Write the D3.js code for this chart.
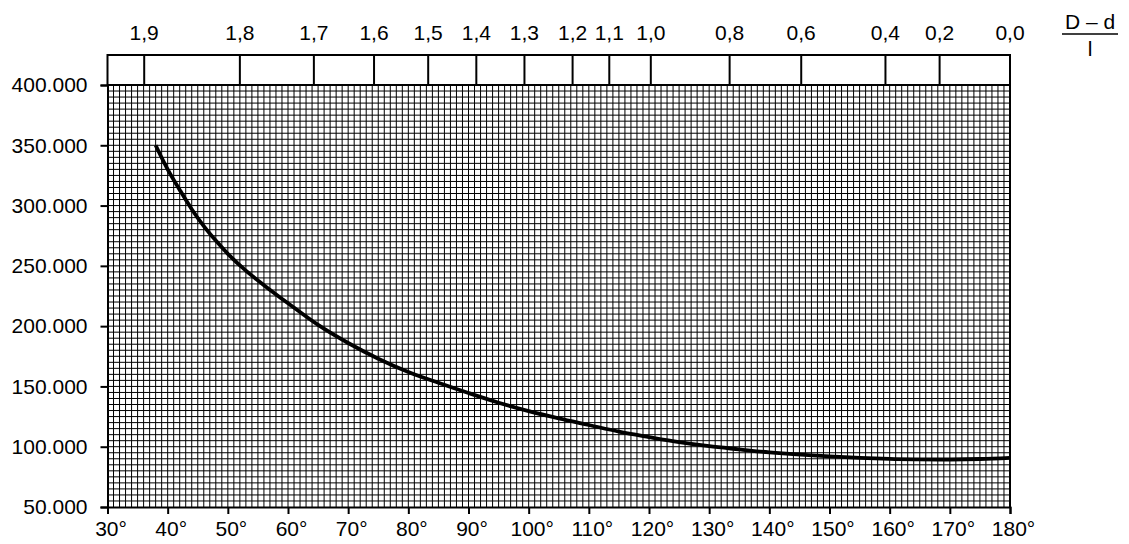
<!DOCTYPE html>
<html>
<head>
<meta charset="utf-8">
<script src="https://d3js.org/d3.v7.min.js"></script>
<style>
  body { margin: 0; background: #fff; }
  text { font-family: "Liberation Sans", Arial, sans-serif; fill: #000; }
</style>
</head>
<body>
<div id="chart"></div>
<script>
// curve: angle (deg) -> value (thousands)
const angles = [38, 40, 42, 44, 46, 48, 50, 53, 56, 60, 65, 70, 75, 80, 85, 90, 95, 100, 105, 110, 115, 120, 125, 130, 135, 140, 150, 160, 165, 170, 175, 180];
const values = [350, 330, 313, 297, 283, 271, 260, 246, 234, 219, 201, 186, 173, 162, 153, 144.5, 136.5, 129.5, 123.5, 118, 112.5, 108, 103.8, 100.4, 97.8, 95.3, 92, 89.9, 89.5, 89.4, 89.8, 90.8];

// top scale (D - d) / l, with positions read as angles
const topLabels = ["1,9", "1,8", "1,7", "1,6", "1,5", "1,4", "1,3", "1,2", "1,1", "1,0", "0,8", "0,6", "0,4", "0,2", "0,0"];
const topAngles = [36.1, 52.0, 64.3, 74.3, 83.3, 91.3, 99.3, 107.3, 113.4, 120.3, 133.4, 145.3, 159.3, 168.3, 180];

const xTicks = [30, 40, 50, 60, 70, 80, 90, 100, 110, 120, 130, 140, 150, 160, 170, 180];
const yTicks = [50, 100, 150, 200, 250, 300, 350, 400];

const W = 1129, H = 544;
const margin = {top: 85, right: 119, bottom: 37, left: 107.5};
const fs = "21px";

const svg = d3.select("#chart").append("svg")
    .attr("width", W)
    .attr("height", H);

const x = d3.scaleLinear().domain([30, 180]).range([margin.left, W - margin.right]);
const y = d3.scaleLinear().domain([50, 400]).range([H - margin.bottom, margin.top]);

// fine grid: 1 degree x 5.000
const grid = svg.append("g").attr("stroke", "#000").attr("stroke-width", 1);
grid.selectAll("line.v")
  .data(d3.range(31, 180, 1))
  .join("line")
    .attr("x1", d => x(d)).attr("x2", d => x(d))
    .attr("y1", y(50)).attr("y2", y(400));
grid.selectAll("line.h")
  .data(d3.range(55, 401, 5))
  .join("line")
    .attr("x1", x(30)).attr("x2", x(180))
    .attr("y1", d => y(d)).attr("y2", d => y(d));

// right border
svg.append("line")
    .attr("x1", x(180)).attr("x2", x(180))
    .attr("y1", y(50)).attr("y2", y(400))
    .attr("stroke", "#000").attr("stroke-width", 2);

// axes
const fmt = d => d3.format(",")(d * 1000).replace(/,/g, ".");
const yAxis = svg.append("g")
    .attr("transform", `translate(${margin.left},0)`)
    .call(d3.axisLeft(y).tickValues(yTicks).tickFormat(fmt).tickSize(7).tickPadding(13));
const xAxis = svg.append("g")
    .attr("transform", `translate(0,${y(50)})`)
    .call(d3.axisBottom(x).tickValues(xTicks).tickFormat(d => d + "°").tickSize(7).tickPadding(7));

[yAxis, xAxis].forEach(a => {
  a.select(".domain").attr("stroke", "#000").attr("stroke-width", 2);
  a.selectAll(".tick line").attr("stroke", "#000").attr("stroke-width", 2);
  a.selectAll("text").style("font-size", fs).attr("font-family", null);
});
xAxis.selectAll("text").attr("dx", "3");

// top band
const bandTop = 55;
svg.append("rect")
    .attr("x", x(30)).attr("y", bandTop)
    .attr("width", x(180) - x(30)).attr("height", y(400) - bandTop)
    .attr("fill", "none").attr("stroke", "#000").attr("stroke-width", 2);
svg.append("g").selectAll("line")
  .data(topAngles)
  .join("line")
    .attr("x1", d => x(d)).attr("x2", d => x(d))
    .attr("y1", bandTop).attr("y2", y(400))
    .attr("stroke", "#000").attr("stroke-width", 2);
svg.append("g").selectAll("text")
  .data(topAngles)
  .join("text")
    .attr("x", d => x(d)).attr("y", 40)
    .attr("text-anchor", "middle")
    .style("font-size", fs)
    .text((d, i) => topLabels[i]);

// fraction label
const fx = 1090;
svg.append("text").attr("x", fx).attr("y", 29).attr("text-anchor", "middle")
    .style("font-size", fs).text("D – d");
svg.append("line").attr("x1", fx - 28).attr("x2", fx + 28)
    .attr("y1", 34).attr("y2", 34).attr("stroke", "#000").attr("stroke-width", 1.3);
svg.append("text").attr("x", fx).attr("y", 56).attr("text-anchor", "middle")
    .style("font-size", fs).text("l");

// curve
const line = d3.line()
    .x(d => x(d[0]))
    .y(d => y(d[1]))
    .curve(d3.curveCatmullRom.alpha(0.5));
svg.append("path")
    .datum(angles.map((a, i) => [a, values[i]]))
    .attr("d", line)
    .attr("fill", "none")
    .attr("stroke", "#000")
    .attr("stroke-width", 3.8);
</script>
</body>
</html>
